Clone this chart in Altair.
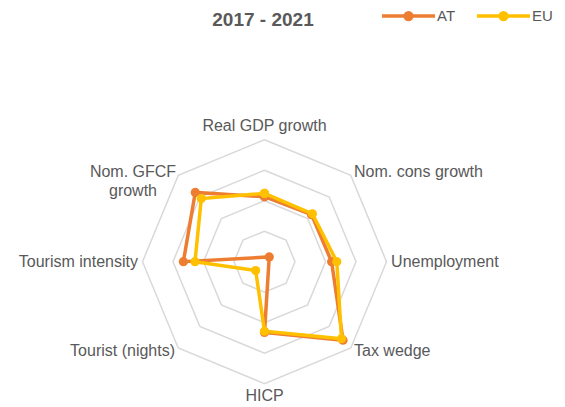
import altair as alt
import pandas as pd

# ---- data ----
categories = ["Real GDP growth", "Nom. cons growth", "Unemployment", "Tax wedge",
              "HICP", "Tourist (nights)", "Tourism intensity", "Nom. GFCF\ngrowth"]
at_values = [2.13, 2.18, 2.20, 3.64, 2.32, -0.22, 2.66, 3.21]
eu_values = [2.24, 2.22, 2.37, 3.57, 2.28, 0.41, 2.28, 2.93]
series_names = ["AT", "EU"]
series_colors = ["#ED7D31", "#FFC000"]
ring_levels = [1, 2, 3, 4]
title_text = "2017 - 2021"

n = len(categories)
rows = []
for name, vals in zip(series_names, [at_values, eu_values]):
    for k in range(n + 1):
        i = k % n
        rows.append({"series": name, "idx": i, "ord": k, "value": vals[i]})
series_df = pd.DataFrame(rows)
ring_df = pd.DataFrame([{"level": L, "idx": k % n, "ord": k, "value": L}
                        for L in ring_levels for k in range(n + 1)])
label_df = pd.DataFrame({"category": categories, "idx": list(range(n)), "value": [4.15] * n})
title_df = pd.DataFrame({"t": [title_text]})

FONT = "Liberation Sans"
TXT = "#595959"
W, H = 549, 389
XS = alt.Scale(domain=[-8.410, 9.590])
YS = alt.Scale(domain=[-4.764, 7.990])

ang = "datum.idx * 2 * PI / %d" % n
def polar(ch):
    return ch.transform_calculate(
        px="datum.value * sin(%s)" % ang,
        py="datum.value * cos(%s)" % ang,
    )

X = alt.X("px:Q", scale=XS, axis=None)
Y = alt.Y("py:Q", scale=YS, axis=None)
cscale = alt.Scale(domain=series_names, range=series_colors)

rings = polar(alt.Chart(ring_df)).mark_line(color="#D9D9D9", strokeWidth=1.5).encode(
    x=X, y=Y, detail="level:N", order="ord:Q")

legend_path = ("M-1,0L1,0"
               "M-0.066,0A0.066,0.066 0 1,0 0.066,0A0.066,0.066 0 1,0 -0.066,0"
               "M-0.128,0A0.128,0.128 0 1,0 0.128,0A0.128,0.128 0 1,0 -0.128,0")
legend = alt.Legend(title=None, orient="none", legendX=372, legendY=-30.5,
                    direction="horizontal", columns=2, symbolType=legend_path,
                    symbolSize=2809, symbolStrokeWidth=3.5, labelFont=FONT,
                    labelFontSize=15, labelColor=TXT, labelOffset=0,
                    columnPadding=14, padding=0)

layers = [rings]
for j, s in enumerate(series_names):
    base = polar(alt.Chart(series_df).transform_filter(alt.datum.series == s))
    line = base.mark_line(strokeWidth=3.5).encode(
        x=X, y=Y, order="ord:Q",
        color=alt.Color("series:N", scale=cscale, legend=legend if j == 0 else None))
    pts = base.mark_point(filled=True, size=85, opacity=1).encode(
        x=X, y=Y, color=alt.Color("series:N", scale=cscale, legend=None))
    layers += [line, pts]

lab = polar(alt.Chart(label_df))
tkw = dict(font=FONT, fontSize=16, color=TXT, lineBreak="\n", lineHeight=19)
layers += [
    lab.transform_filter("datum.idx == 0").mark_text(align="center", baseline="bottom", dy=-1, **tkw)
       .encode(x=X, y=Y, text="category:N"),
    lab.transform_filter("datum.idx == 4").mark_text(align="center", baseline="top", dy=0, **tkw)
       .encode(x=X, y=Y, text="category:N"),
    lab.transform_filter("datum.idx >= 1 && datum.idx <= 3").mark_text(align="left", baseline="middle", **tkw)
       .encode(x=X, y=Y, text="category:N"),
    lab.transform_filter("datum.idx == 5 || datum.idx == 6").mark_text(align="right", baseline="middle", **tkw)
       .encode(x=X, y=Y, text="category:N"),
    lab.transform_filter("datum.idx == 7").mark_text(align="center", baseline="middle", dx=-42, **tkw)
       .encode(x=X, y=Y, text="category:N"),
    alt.Chart(title_df).mark_text(font=FONT, fontSize=19, fontWeight="bold", color=TXT,
                                  align="center", baseline="alphabetic")
       .encode(x=alt.value(255), y=alt.value(8), text="t:N"),
]

chart = alt.layer(*layers).properties(
    width=W, height=H,
    padding={"left": 0, "top": 10, "right": 0, "bottom": 0},
    autosize=alt.AutoSizeParams(type="none"),
).configure_view(stroke=None)

chart.save("out.html", embed_options={"renderer": "svg", "actions": False})
